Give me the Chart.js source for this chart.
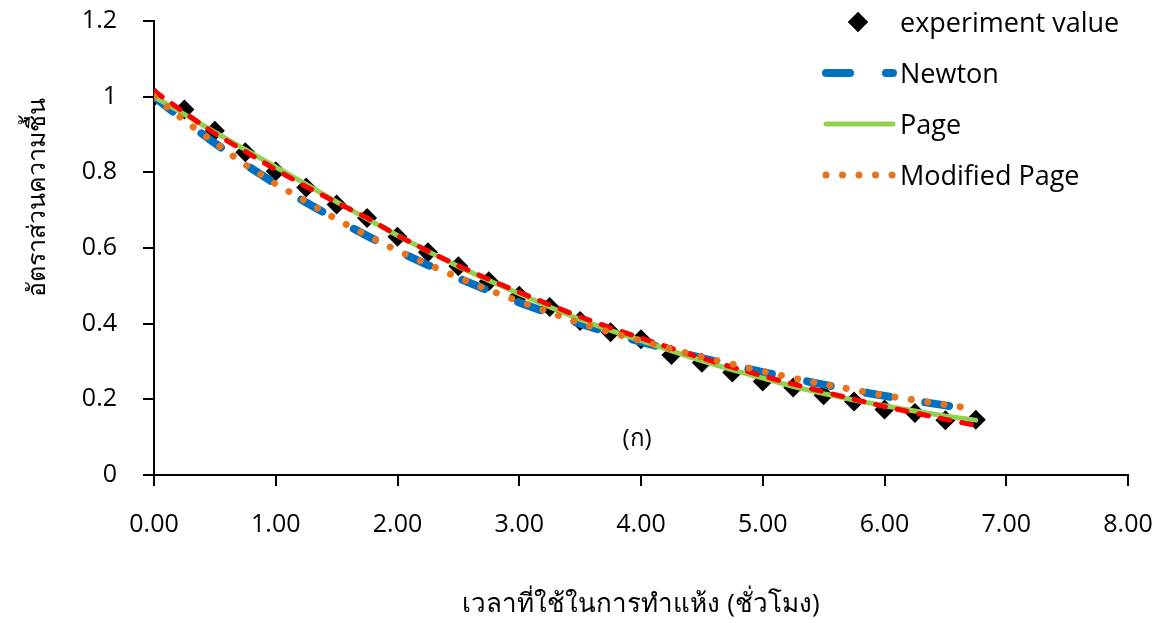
<!DOCTYPE html>
<html>
<head>
<meta charset="utf-8">
<script src="https://cdn.jsdelivr.net/npm/chart.js@4.4.1/dist/chart.umd.min.js"></script>
<style>
  html, body { margin: 0; padding: 0; background: #fff; }
  #grafico { display: block; }
</style>
</head>
<body>
<canvas id="grafico" width="1169" height="623"></canvas>
<script>
// Drying time (hours), one reading every 15 min
const tempos = [0, 0.25, 0.5, 0.75, 1, 1.25, 1.5, 1.75, 2, 2.25, 2.5, 2.75, 3, 3.25,
  3.5, 3.75, 4, 4.25, 4.5, 4.75, 5, 5.25, 5.5, 5.75, 6, 6.25, 6.5, 6.75];

// Moisture ratio, measured
const experimento = [1.000, 0.966, 0.910, 0.853, 0.803, 0.760, 0.715, 0.679, 0.630, 0.589,
  0.552, 0.512, 0.474, 0.444, 0.407, 0.377, 0.359, 0.317, 0.297, 0.271,
  0.247, 0.231, 0.211, 0.194, 0.173, 0.164, 0.145, 0.146];

// Model curves
const newton = [1.000, 0.936, 0.877, 0.821, 0.769, 0.720, 0.675, 0.632, 0.592, 0.555,
  0.520, 0.487, 0.456, 0.427, 0.400, 0.375, 0.352, 0.330, 0.309, 0.290,
  0.272, 0.255, 0.239, 0.223, 0.209, 0.196, 0.184, 0.172];
const page = [1.000, 0.953, 0.906, 0.860, 0.814, 0.768, 0.722, 0.677, 0.633, 0.591,
  0.551, 0.514, 0.479, 0.444, 0.411, 0.382, 0.355, 0.328, 0.302, 0.278,
  0.256, 0.234, 0.215, 0.198, 0.183, 0.169, 0.156, 0.145];
const pageModificado = [1.000, 0.937, 0.878, 0.820, 0.769, 0.723, 0.676, 0.633, 0.593, 0.557,
  0.522, 0.489, 0.459, 0.430, 0.401, 0.377, 0.355, 0.333, 0.312, 0.293,
  0.274, 0.256, 0.240, 0.225, 0.210, 0.198, 0.186, 0.174];
// red dashed curve (no legend entry in the original)
const curvaVermelha = [1.015, 0.958, 0.902, 0.855, 0.807, 0.762, 0.720, 0.680, 0.633, 0.592,
  0.553, 0.517, 0.483, 0.450, 0.418, 0.389, 0.362, 0.335, 0.309, 0.285,
  0.262, 0.240, 0.220, 0.200, 0.181, 0.164, 0.147, 0.131];

const nomes = ['experiment value', 'Newton', 'Page', 'Modified Page'];
const tituloX = 'เวลาที่ใช้ในการทำแห้ง (ชั่วโมง)';
const tituloY = 'อัตราส่วนความชื้น';
const rotulo = '(ก)';

const FONTE = '"Open Sans", "Noto Sans", sans-serif';

function pontos(valores) {
  return tempos.map((t, i) => ({ x: t, y: valores[i] }));
}

// Legend + y title + "(ก)" drawn by hand, the original legend sits inside the plot
const extras = {
  id: 'extras',
  afterDraw(chart) {
    const ctx = chart.ctx;
    ctx.save();
    ctx.fillStyle = '#000';

    // y axis title
    ctx.save();
    ctx.translate(38, 197);
    ctx.rotate(-Math.PI / 2);
    ctx.font = '25px ' + FONTE;
    ctx.textAlign = 'center';
    ctx.textBaseline = 'middle';
    ctx.fillText(tituloY, 0, 0);
    ctx.restore();

    // panel label
    ctx.font = '24px ' + FONTE;
    ctx.textAlign = 'center';
    ctx.textBaseline = 'middle';
    ctx.fillText(rotulo, 637, 439);

    // legend
    const linhas = [22, 73, 124, 175];
    const ds = chart.data.datasets.filter(d => d.label);
    ds.forEach((d, i) => {
      const y = linhas[i];
      ctx.save();
      if (d.showLine === false) {
        Chart.helpers.drawPoint(ctx, { pointStyle: d.pointStyle, radius: 10, borderWidth: 0 }, 858, y);
        ctx.fillStyle = d.backgroundColor;
        ctx.fill();
      } else {
        ctx.strokeStyle = d.borderColor;
        ctx.lineWidth = d.borderWidth;
        ctx.lineCap = d.borderCapStyle || 'butt';
        ctx.setLineDash(d.borderDash || []);
        ctx.beginPath();
        ctx.moveTo(826, y);
        ctx.lineTo(893, y);
        ctx.stroke();
      }
      ctx.restore();
      ctx.font = '27px ' + FONTE;
      ctx.textAlign = 'left';
      ctx.textBaseline = 'middle';
      ctx.fillStyle = '#000';
      ctx.fillText(d.label, 900, y + 2);
    });
    ctx.restore();
  }
};

Chart.defaults.font.family = FONTE;
Chart.defaults.color = '#000';

new Chart(document.getElementById('grafico'), {
  type: 'line',
  data: {
    datasets: [
      {
        label: nomes[0],
        data: pontos(experimento),
        showLine: false,
        pointStyle: 'rectRot',
        pointRadius: 10,
        pointBorderWidth: 0,
        backgroundColor: '#000',
        borderColor: '#000',
        order: 5
      },
      {
        label: nomes[1],
        data: pontos(newton),
        borderColor: '#0070C0',
        borderWidth: 8,
        borderDash: [24, 36],
        borderCapStyle: 'round',
        pointRadius: 0,
        order: 4
      },
      {
        label: nomes[2],
        data: pontos(page),
        borderColor: '#92D050',
        borderWidth: 5,
        borderCapStyle: 'round',
        pointRadius: 0,
        order: 3
      },
      {
        label: '',
        data: pontos(curvaVermelha),
        borderColor: '#FF0000',
        borderWidth: 5,
        borderDash: [10, 12],
        borderCapStyle: 'round',
        pointRadius: 0,
        order: 2
      },
      {
        label: nomes[3],
        data: pontos(pageModificado),
        borderColor: '#E8731A',
        borderWidth: 7,
        borderDash: [0.01, 16.5],
        borderCapStyle: 'round',
        pointRadius: 0,
        order: 1
      }
    ]
  },
  options: {
    responsive: false,
    animation: false,
    devicePixelRatio: 1,
    layout: { padding: { left: 0, right: 41, top: 21, bottom: 0 } },
    plugins: {
      legend: { display: false },
      tooltip: { enabled: false }
    },
    scales: {
      x: {
        type: 'linear',
        min: 0,
        max: 8,
        // fixed axis box, no extra label padding at the ends
        afterFit: s => { s.height = 148; s.paddingLeft = 0; s.paddingRight = 0; },
        ticks: {
          stepSize: 1,
          padding: 24,
          font: { size: 25 },
          callback: v => v.toFixed(2)
        },
        grid: { drawOnChartArea: false, drawTicks: true, tickLength: 11, color: '#000', lineWidth: 2 },
        border: { color: '#000', width: 2 },
        title: { display: true, text: tituloX, font: { size: 26 }, padding: { top: 0, bottom: 3 } }
      },
      y: {
        min: 0,
        max: 1.2,
        afterFit: s => { s.width = 154; s.paddingTop = 0; s.paddingBottom = 0; },
        ticks: {
          stepSize: 0.2,
          padding: 26,
          font: { size: 25 },
          callback: v => String(Math.round(v * 10) / 10)
        },
        grid: { drawOnChartArea: false, drawTicks: true, tickLength: 11, color: '#000', lineWidth: 2 },
        border: { color: '#000', width: 2 }
      }
    }
  },
  plugins: [extras]
});
</script>
</body>
</html>
